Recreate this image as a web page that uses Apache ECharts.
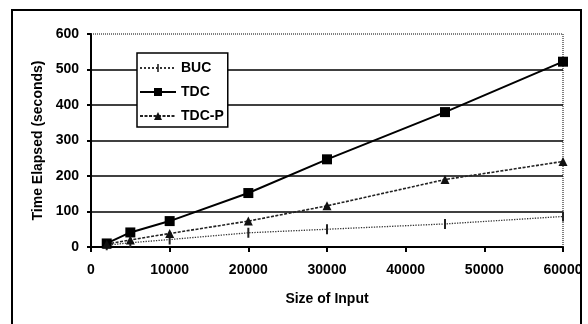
<!DOCTYPE html>
<html>
<head>
<meta charset="utf-8">
<script src="https://cdn.jsdelivr.net/npm/echarts@6/dist/echarts.min.js"></script>
<style>html,body{margin:0;padding:0;background:#fff;}#c{width:588px;height:324px;}</style>
</head>
<body>
<div id="c"></div>
<script>
const sizes = [2000, 5000, 10000, 20000, 30000, 45000, 60000];
const buc = [5, 12, 21, 40, 50, 65, 86];
const tdc = [10, 41, 73, 152, 247, 380, 522];
const tdcp = [8, 20, 38, 73, 116, 190, 241];
const seriesNames = ['BUC', 'TDC', 'TDC-P'];
const xTitle = 'Size of Input';
const yTitle = 'Time Elapsed (seconds)';

const pair = arr => sizes.map((s, i) => [s, arr[i]]);
const font = 'Liberation Sans, Arial, sans-serif';
const bucSymbol = 'path://M0,0 L0.01,0 L0.01,0.01 Z M4,0 L6,0 L6,10 L4,10 Z M10,10 L9.99,10 L9.99,9.99 Z';
const chart = echarts.init(document.getElementById('c'));
chart.setOption({
  animation: false,
  backgroundColor: '#fff',
  graphic: [{
    type: 'rect', shape: {x: 12, y: 10, width: 569, height: 330},
    style: {fill: 'none', stroke: '#000', lineWidth: 2}, z: -1
  }],
  grid: {left: 91, right: 25, top: 34, bottom: 77, show: true, borderColor: '#000', borderWidth: 1, borderType: 'dotted', backgroundColor: 'transparent'},
  legend: {
    orient: 'vertical', left: 137, top: 53,
    padding: [8, 4, 4, 2], itemGap: 10, itemWidth: 36, itemHeight: 10,
    backgroundColor: '#fff', borderColor: '#000', borderWidth: 1.5,
    textStyle: {fontFamily: font, fontWeight: 'bold', fontSize: 14, color: '#000'},
    data: seriesNames
  },
  xAxis: {
    type: 'value', min: 0, max: 60000, interval: 10000,
    name: xTitle, nameLocation: 'middle', nameGap: 45,
    nameTextStyle: {fontFamily: font, fontWeight: 'bold', fontSize: 14, color: '#000'},
    axisLine: {show: true, lineStyle: {color: '#000', width: 2}},
    axisTick: {show: true, length: 5, lineStyle: {color: '#000', width: 2}},
    axisLabel: {margin: 16, fontFamily: font, fontWeight: 'bold', fontSize: 14, color: '#000',
      formatter: v => String(v)},
    splitLine: {show: false}
  },
  yAxis: {
    type: 'value', min: 0, max: 600, interval: 100,
    name: yTitle, nameLocation: 'middle', nameGap: 42, nameRotate: 90,
    nameTextStyle: {fontFamily: font, fontWeight: 'bold', fontSize: 14, color: '#000'},
    axisLine: {show: true, lineStyle: {color: '#000', width: 2}},
    axisTick: {show: true, length: 4, lineStyle: {color: '#000', width: 2}},
    axisLabel: {margin: 12, fontFamily: font, fontWeight: 'bold', fontSize: 14, color: '#000'},
    splitLine: {show: true, showMaxLine: false, lineStyle: {color: '#000', width: 1.5}}
  },
  series: [
    {name: 'BUC', type: 'line', data: pair(buc), symbol: bucSymbol, symbolSize: 10,
     itemStyle: {color: '#222'}, lineStyle: {color: '#333', width: 1.3, type: 'dotted'}},
    {name: 'TDC', type: 'line', data: pair(tdc), symbol: 'rect', symbolSize: 10,
     itemStyle: {color: '#000'}, lineStyle: {color: '#000', width: 2}},
    {name: 'TDC-P', type: 'line', data: pair(tdcp), symbol: 'triangle', symbolSize: 9,
     itemStyle: {color: '#111'}, lineStyle: {color: '#222', width: 1.6, type: [3, 1.5]}}
  ]
});
</script>
</body>
</html>
